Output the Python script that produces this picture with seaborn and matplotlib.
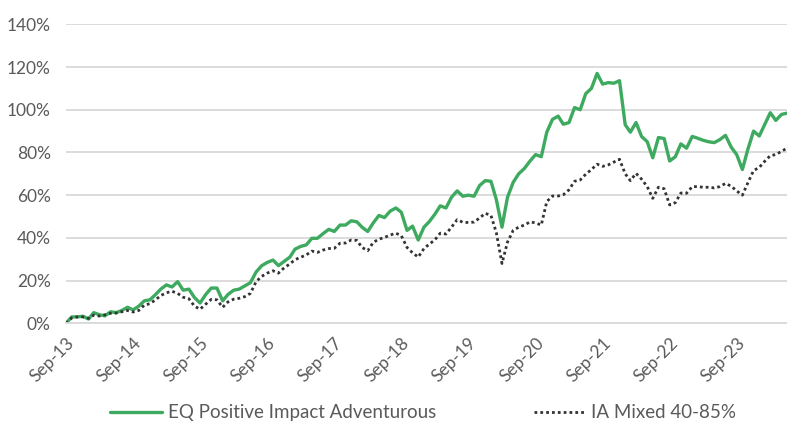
import pandas as pd
import matplotlib
matplotlib.use("Agg")
import matplotlib.pyplot as plt
import matplotlib.dates as mdates
from matplotlib.ticker import PercentFormatter
import seaborn as sns

# ---- data (cumulative % return, monthly from Sep-13) ----
eq_name = "EQ Positive Impact Adventurous"
ia_name = "IA Mixed 40-85%"

eq_values = [
    0, 3, 3, 3.3, 2, 5, 4, 3.5, 5.4, 5, 6, 7.5,
    6.3, 8, 10.5, 11, 13.5, 16, 18, 17, 19.5, 15.5, 16, 12,
    9.5, 13.5, 16.5, 16.5, 10.5, 13.5, 15.5, 16, 17.5, 19, 24, 27,
    28.5, 29.6, 27, 29, 31, 34.7, 36, 36.7, 39.8, 39.8, 42, 44,
    43, 46, 46, 48, 47.5, 45, 43, 47, 50.5, 49.5, 52.5, 54,
    52, 43.5, 45.5, 39, 45, 47.5, 51, 55, 54, 59, 62, 59.5,
    60, 59.5, 64.5, 66.8, 66.5, 58, 45, 59, 66, 70, 72.5, 76,
    79, 78, 89.5, 95.5, 97, 93.2, 94, 101, 100, 107.5, 110, 117,
    112, 112.7, 112.4, 113.6, 93, 89.5, 94, 87.5, 85, 77.5, 87, 86.5,
    76, 78, 84, 82, 87.5, 86.7, 85.7, 85, 84.6, 86, 88, 82.5,
    79, 72, 81.5, 90, 87.7, 93, 98.6, 95, 97.8, 98.4,
]

ia_values = [
    0, 2.5, 3, 3, 2.3, 3.8, 3.4, 4, 4.7, 4.8, 5.4, 6,
    5.3, 6, 8.5, 9.2, 11, 13, 14.3, 15, 14, 12.2, 11.5, 8,
    6.6, 9, 11.2, 11, 7.5, 10, 11.3, 11.7, 12.5, 14, 19.5, 22,
    23.5, 24.6, 23.5, 26, 27.8, 29.8, 30.9, 32, 33.8, 33.2, 34.3, 35,
    35.1, 37.5, 37.6, 39, 38.8, 35.5, 34, 37.9, 39.4, 40.2, 41.3, 42.2,
    41, 35.5, 33, 31, 35, 37, 39, 42.2, 41.8, 45, 48.5, 47.3,
    47.2, 47.4, 49.3, 51.5, 50.5, 42.5, 28, 38, 43.5, 45, 46, 47.5,
    47, 46, 57, 59.6, 59.6, 60.2, 62.5, 66.5, 67.1, 69.8, 72, 74.5,
    73.5, 74.2, 75.5, 76.8, 70, 66.8, 70.2, 67.5, 64, 58.5, 63.7, 63,
    55.4, 56.5, 61, 60.9, 64, 64, 63.7, 63.7, 63.4, 64, 65.5, 64.2,
    62, 60, 65.8, 71.5, 73, 75.8, 78.5, 79, 80.5, 82,
]

dates = pd.date_range("2013-09-30", periods=len(eq_values), freq="ME")
df = pd.DataFrame({"date": dates, "eq": eq_values, "ia": ia_values})

# ---- style ----
sns.set_style("white")
plt.rcParams["font.family"] = ["Lato", "DejaVu Sans"]
text_col = "#5a5a5a"
grid_col = "#d9d9d9"
dots = (0, (1, 1.1))

fig = plt.figure(figsize=(7.87, 4.23), dpi=100)
ax = fig.add_axes([66 / 787, 1 - 323.3 / 423, 1 - 66 / 787, (323.3 - 24.3) / 423])

sns.lineplot(data=df, x="date", y="eq", ax=ax, color="#3daa5f",
             linewidth=2.4, label=eq_name)
sns.lineplot(data=df, x="date", y="ia", ax=ax, color="#333333",
             linewidth=2.0, label=ia_name)
ax.lines[1].set_linestyle(dots)

ax.set_ylim(0, 140)
ax.set_yticks(range(0, 141, 20))
ax.yaxis.set_major_formatter(PercentFormatter(decimals=0))
ax.set_xlim(dates[0], dates[-1])
sep_ticks = [d for d in dates if d.month == 9]
ax.set_xticks(sep_ticks)
ax.xaxis.set_major_formatter(mdates.DateFormatter("%b-%y"))

ax.set_xlabel("")
ax.set_ylabel("")
ax.yaxis.grid(True, color=grid_col, linewidth=1.3)
ax.set_axisbelow(True)
for side in ["top", "right", "left"]:
    ax.spines[side].set_visible(False)
ax.spines["bottom"].set_color(grid_col)
ax.spines["bottom"].set_linewidth(1.3)

ax.tick_params(axis="y", length=0, pad=11, labelsize=12.5, labelcolor=text_col)
ax.tick_params(axis="x", length=5, width=1.3, color=grid_col, pad=3,
               labelsize=12.5, labelcolor=text_col)
for lab in ax.get_xticklabels():
    lab.set_rotation(45)
    lab.set_ha("right")
    lab.set_va("top")
    lab.set_rotation_mode("anchor")

ax.get_legend().remove()
handles, labels = ax.get_legend_handles_labels()
handles[1].set_linestyle(dots)
fig.legend(handles, labels, loc="center left", bbox_to_anchor=(110 / 787, 0.024),
           ncol=2, frameon=False, fontsize=13.5, labelcolor=text_col,
           handlelength=2.75, handletextpad=0.33, columnspacing=5.2,
           borderpad=0, borderaxespad=0)

fig.savefig("out.png", dpi=100)
